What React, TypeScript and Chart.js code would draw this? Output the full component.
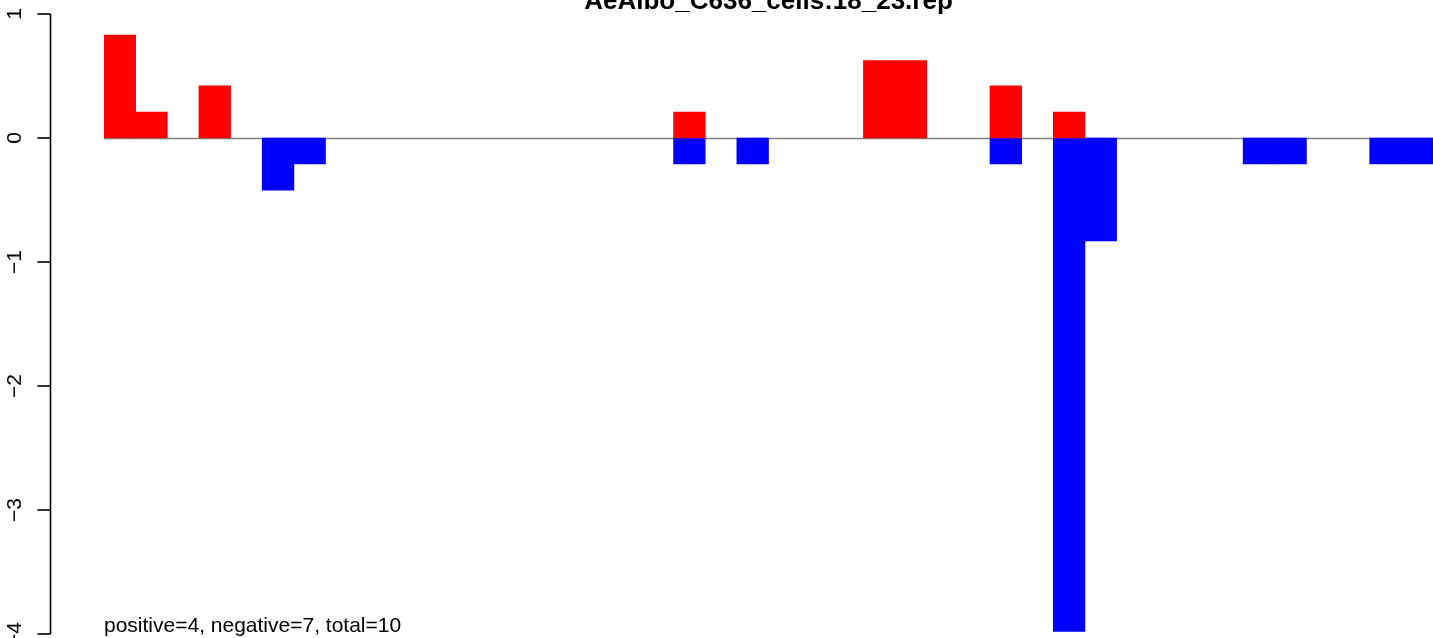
import React, { useEffect, useRef } from "react";
import { Chart, registerables } from "chart.js";

Chart.register(...registerables);

const TITLE = "AeAlbo_C636_cells:18_23.rep";
const SUBTITLE = "positive=4, negative=7, total=10";

// 42 bins along the x axis
const bins: string[] = [
  "1", "2", "3", "4", "5", "6", "7", "8", "9", "10",
  "11", "12", "13", "14", "15", "16", "17", "18", "19", "20",
  "21", "22", "23", "24", "25", "26", "27", "28", "29", "30",
  "31", "32", "33", "34", "35", "36", "37", "38", "39", "40",
  "41", "42",
];

const positiveValues: number[] = [
  0.83, 0.21, 0, 0.42, 0, 0, 0, 0, 0, 0,
  0, 0, 0, 0, 0, 0, 0, 0, 0.21, 0,
  0, 0, 0, 0, 0.625, 0.625, 0, 0, 0.42, 0,
  0.21, 0, 0, 0, 0, 0, 0, 0, 0, 0,
  0, 0,
];

const negativeValues: number[] = [
  0, 0, 0, 0, 0, -0.42, -0.21, 0, 0, 0,
  0, 0, 0, 0, 0, 0, 0, 0, -0.21, 0,
  -0.21, 0, 0, 0, 0, 0, 0, 0, -0.21, 0,
  -3.98, -0.83, 0, 0, 0, 0, -0.21, -0.21, 0, 0,
  -0.21, -0.21,
];

const yTicks: number[] = [1, 0, -1, -2, -3, -4];
const Y_MIN = -4;
const Y_MAX = 1;

const FONT = "'Liberation Sans', Arial, Helvetica, sans-serif";

const decorPlugin = {
  id: "rDecor",
  beforeDatasetsDraw(chart: any) {
    const ctx = chart.ctx;
    const area = chart.chartArea;
    const y = chart.scales.y;
    const y0 = y.getPixelForValue(0);
    ctx.save();
    ctx.strokeStyle = "#808080";
    ctx.lineWidth = 1.5;
    ctx.beginPath();
    ctx.moveTo(area.left, y0 + 0.5);
    ctx.lineTo(area.right, y0 + 0.5);
    ctx.stroke();
    ctx.restore();
  },
  afterDraw(chart: any) {
    const ctx = chart.ctx;
    const area = chart.chartArea;
    const y = chart.scales.y;
    ctx.save();
    // axis line
    const axisX = 50.5;
    ctx.strokeStyle = "#000";
    ctx.lineWidth = 1.6;
    ctx.lineCap = "butt";
    ctx.beginPath();
    ctx.moveTo(axisX, y.getPixelForValue(Y_MAX));
    ctx.lineTo(axisX, y.getPixelForValue(Y_MIN));
    ctx.stroke();
    // ticks + labels
    ctx.fillStyle = "#000";
    ctx.font = `21px ${FONT}`;
    ctx.textAlign = "center";
    ctx.textBaseline = "alphabetic";
    yTicks.forEach((t) => {
      const py = y.getPixelForValue(t);
      ctx.beginPath();
      ctx.moveTo(axisX - 13, py);
      ctx.lineTo(axisX, py);
      ctx.stroke();
      ctx.save();
      ctx.translate(21, py);
      ctx.rotate(-Math.PI / 2);
      ctx.fillText(t < 0 ? "\u2212" + Math.abs(t) : String(t), 0, 0);
      ctx.restore();
    });
    // title
    ctx.font = `bold 26px ${FONT}`;
    ctx.textAlign = "center";
    ctx.fillText(TITLE, (area.left + area.right) / 2, 9);
    // subtitle
    ctx.font = `21px ${FONT}`;
    ctx.textAlign = "left";
    ctx.fillText(SUBTITLE, area.left, 632);
    ctx.restore();
  },
};

const orNull = (arr: number[]) => arr.map((v) => (v === 0 ? null : v));

export default function App() {
  const ref = useRef<HTMLCanvasElement | null>(null);
  useEffect(() => {
    if (!ref.current) return;
    const chart = new Chart(ref.current, {
      type: "bar",
      data: {
        labels: bins,
        datasets: [
          {
            data: orNull(positiveValues),
            backgroundColor: "#FF0000",
            borderWidth: 0,
            barPercentage: 1,
            categoryPercentage: 1,
          },
          {
            data: orNull(negativeValues),
            backgroundColor: "#0000FF",
            borderWidth: 0,
            barPercentage: 1,
            categoryPercentage: 1,
          },
        ],
      },
      options: {
        animation: false,
        responsive: false,
        devicePixelRatio: 1,
        layout: { padding: { left: 104, right: 0, top: 14, bottom: 4 } },
        scales: {
          x: { display: false, stacked: true, offset: true, grid: { display: false } },
          y: { display: false, stacked: true, min: Y_MIN, max: Y_MAX },
        },
        plugins: {
          legend: { display: false },
          tooltip: { enabled: false },
          title: { display: false },
        },
      },
      plugins: [decorPlugin],
    });
    return () => chart.destroy();
  }, []);
  return (
    <div style={{ position: "absolute", left: 0, top: 0, width: 1433, height: 638, background: "#fff" }}>
      <canvas ref={ref} width={1433} height={638} style={{ display: "block" }} />
    </div>
  );
}
